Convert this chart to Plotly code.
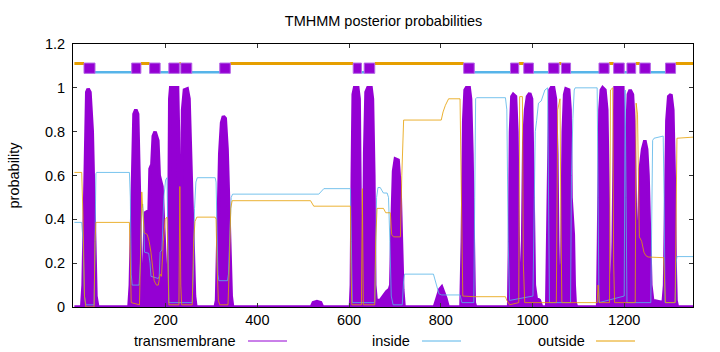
import plotly.graph_objects as go

# ---------------- data ----------------
seq_len = 1350

tm_pos = [1, 17, 20, 24, 28, 31, 35, 40, 44, 48, 52,
          120, 123, 127, 131, 135, 139, 143, 146, 150, 154, 156, 164, 166, 170, 173, 177, 183, 186, 192, 197, 201, 205,
          207, 209, 211, 226, 228, 230, 232, 234, 237, 241, 247, 251, 255, 259, 263, 266,
          308, 311, 314, 318, 322, 326, 330, 334, 337, 340, 343, 346,
          518, 522, 530, 538, 542,
          603, 605, 607, 609, 612, 619, 622, 624, 626, 629, 632, 634, 637, 641, 648, 651, 654, 656, 659,
          668, 675, 682, 688, 691, 694, 697, 701, 707, 711, 714, 717, 720,
          786, 792, 798, 802, 806, 811, 816,
          844, 847, 850, 853, 856, 862, 865, 868, 871, 873, 876,
          948, 950, 952, 955, 958, 963, 966, 969, 971, 973,
          975, 978, 981, 985, 989, 994, 998, 1000, 1002, 1004, 1008, 1015, 1020,
          1031, 1033, 1035, 1038, 1041, 1046, 1050, 1053, 1055, 1057, 1059, 1062, 1064, 1067, 1070, 1073, 1079,
          1082, 1084, 1086, 1089, 1091, 1093, 1096,
          1142, 1144, 1147, 1150, 1153, 1158, 1162, 1165, 1167, 1170,
          1173, 1176, 1178, 1180, 1197, 1199, 1201, 1203,
          1204, 1206, 1209, 1213, 1218, 1221, 1223, 1225, 1227,
          1229, 1232, 1235, 1240, 1245, 1249, 1252, 1255, 1258, 1262, 1285, 1288,
          1290, 1293, 1297, 1302, 1306, 1309, 1311, 1313, 1316, 1350]
tm_val = [0, 0, 0.1, 0.6, 0.98, 0.995, 0.98, 0.8, 0.4, 0.05, 0,
          0, 0.1, 0.5, 0.88, 0.9, 0.88, 0.5, 0.05, 0.02, 0.3, 0.43, 0.44, 0.63, 0.65, 0.78, 0.8, 0.76, 0.6, 0.55, 0.3, 0.05, 0,
          0.3, 0.95, 1.0, 1.0, 0.8, 0.1, 0.05, 0.3, 0.9, 0.99, 0.995, 0.95, 0.6, 0.3, 0.05, 0,
          0, 0.03, 0.3, 0.7, 0.84, 0.87, 0.86, 0.72, 0.5, 0.2, 0.05, 0,
          0, 0.02, 0.025, 0.02, 0,
          0, 0.1, 0.6, 0.97, 1.0, 1.0, 0.95, 0.5, 0.05, 0.02, 0.2, 0.7, 0.98, 1.0, 1.0, 0.95, 0.6, 0.1, 0.03,
          0.03, 0.05, 0.07, 0.08, 0.1, 0.4, 0.62, 0.675, 0.67, 0.55, 0.3, 0.08, 0,
          0, 0.04, 0.08, 0.09, 0.07, 0.04, 0,
          0, 0.3, 0.85, 0.99, 1.0, 1.0, 0.95, 0.7, 0.2, 0.02, 0,
          0, 0.3, 0.8, 0.96, 0.97, 0.96, 0.8, 0.3, 0.05, 0.02,
          0.02, 0.2, 0.75, 0.9, 0.96, 0.975, 0.95, 0.75, 0.4, 0.1, 0.04, 0.03, 0,
          0, 0.3, 0.8, 0.99, 1.0, 1.0, 0.95, 0.7, 0.3, 0.1, 0.12, 0.15, 0.2, 0.8, 0.97, 0.995, 0.99,
          0.9, 0.5, 0.4, 0.33, 0.1, 0.02, 0,
          0, 0.3, 0.9, 0.99, 1.0, 0.99, 0.9, 0.5, 0.1, 0.02,
          0.02, 0.3, 0.9, 1.0, 1.0, 0.8, 0.3, 0.05,
          0.2, 0.8, 0.97, 0.99, 0.97, 0.85, 0.6, 0.2, 0.1,
          0.1, 0.45, 0.63, 0.72, 0.76, 0.72, 0.6, 0.35, 0.1, 0.03, 0.02, 0.1,
          0.5, 0.85, 0.96, 0.97, 0.9, 0.6, 0.2, 0.03, 0, 0]

in_pos = [1, 17, 20, 23, 26, 44, 46, 48, 50, 121, 123, 125, 127, 142, 145, 148, 150, 152, 154, 163, 166, 168,
          184, 186, 188, 192, 196, 200, 203, 205, 207, 258, 261, 263, 266, 269, 308, 310, 312, 314, 316, 335,
          337, 340, 343, 346, 534, 545, 603, 605, 607, 656, 658, 660, 663, 668, 672, 675, 683, 686, 689, 692,
          696, 716, 719, 721, 784, 790, 796, 802, 842, 846, 872, 874, 876, 878, 941, 944, 947, 950, 1001, 1004,
          1006, 1009, 1013, 1019, 1023, 1027, 1033, 1035, 1037, 1083, 1085, 1088, 1091, 1093, 1141, 1143, 1145,
          1200, 1202, 1204, 1206, 1258, 1260, 1262, 1265, 1285, 1287, 1289, 1311, 1313, 1315, 1350]
in_val = [0.386, 0.386, 0.3, 0.05, 0.01, 0.01, 0.3, 0.61, 0.614, 0.614, 0.5, 0.15, 0.1, 0.1, 0.2, 0.45, 0.47, 0.4,
          0.25, 0.245, 0.2, 0.14, 0.13, 0.14, 0.25, 0.26, 0.5, 0.58, 0.59, 0.3, 0.02, 0.02, 0.2, 0.45, 0.57, 0.59,
          0.59, 0.57, 0.4, 0.15, 0.12, 0.12, 0.15, 0.35, 0.5, 0.515, 0.515, 0.54, 0.54, 0.3, 0.02, 0.02, 0.3, 0.5,
          0.545, 0.545, 0.53, 0.52, 0.52, 0.5, 0.3, 0.05, 0.01, 0.01, 0.12, 0.15, 0.15, 0.1, 0.06, 0.055, 0.055,
          0.02, 0.02, 0.5, 0.95, 0.955, 0.955, 0.9, 0.3, 0.03, 0.05, 0.5, 0.8, 0.85, 0.93, 0.94, 0.97, 0.99, 1.0,
          0.5, 0.02, 0.02, 0.6, 0.86, 0.99, 1.0, 1.0, 0.5, 0.02, 0.05, 0.99, 0.5, 0.02, 0.02, 0.5, 0.76, 0.77,
          0.78, 0.5, 0.02, 0.02, 0.2, 0.23, 0.23]

out_pos = [1, 17, 20, 23, 26, 44, 46, 48, 121, 123, 125, 143, 145, 148, 150, 153, 160, 164, 168, 171, 175, 180,
           184, 188, 191, 195, 199, 203, 205, 207, 229, 231, 233, 235, 258, 261, 264, 268, 308, 310, 312, 315, 318,
           336, 339, 342, 345, 516, 523, 603, 604, 606, 627, 629, 631, 656, 658, 661, 675, 680, 690, 693, 697, 712,
           715, 719, 801, 805, 810, 817, 842, 845, 848, 873, 941, 944, 950, 970, 972, 978, 980, 983, 1052, 1055,
           1060, 1062, 1064, 1141, 1143, 1146, 1168, 1170, 1175, 1177, 1179, 1224, 1226, 1229, 1231, 1233, 1238,
           1243, 1247, 1252, 1286, 1288, 1290, 1311, 1313, 1315, 1350]
out_val = [0.614, 0.614, 0.4, 0.05, 0.0, 0.0, 0.3, 0.386, 0.386, 0.2, 0.02, 0.01, 0.3, 0.525, 0.45, 0.34, 0.33,
           0.3, 0.25, 0.2, 0.12, 0.1, 0.1, 0.15, 0.14, 0.3, 0.4, 0.41, 0.2, 0.01, 0.01, 0.55, 0.1, 0.01, 0.01, 0.3,
           0.39, 0.41, 0.41, 0.4, 0.2, 0.03, 0.01, 0.01, 0.2, 0.45, 0.485, 0.485, 0.46, 0.46, 0.2, 0.01, 0.01, 0.54,
           0.01, 0.01, 0.3, 0.45, 0.45, 0.43, 0.43, 0.33, 0.32, 0.32, 0.6, 0.853, 0.853, 0.89, 0.92, 0.95, 0.95,
           0.5, 0.05, 0.047, 0.047, 0.03, 0.01, 0.02, 0.96, 0.96, 0.2, 0.02, 0.02, 0.9, 0.95, 0.4, 0.02, 0.02, 0.1,
           0.02, 0.02, 0.99, 1.0, 0.2, 0.02, 0.02, 0.93, 0.88, 0.5, 0.32, 0.3, 0.25, 0.235, 0.228, 0.225, 0.1,
           0.02, 0.02, 0.5, 0.77, 0.775]

# predicted helices (start, end) shown in the topology bar
helix_start = [22, 126, 165, 207, 233, 318, 609, 633, 850, 952, 981, 1035, 1063, 1145, 1177, 1206, 1234, 1290]
helix_end = [46, 146, 188, 230, 257, 341, 627, 656, 873, 970, 1002, 1058, 1083, 1167, 1200, 1225, 1257, 1312]

x_ticks = [200, 400, 600, 800, 1000, 1200]
y_ticks = [0, 0.2, 0.4, 0.6, 0.8, 1, 1.2]
y_tick_text = ["0", "0.2", "0.4", "0.6", "0.8", "1", "1.2"]

# ---------------- styling ----------------
PURPLE = "#9400D3"
BLUE = "#56B4E9"
ORANGE = "#E69F00"
FONT = "Liberation Sans, Arial, sans-serif"
Y_OUT, Y_IN, Y_BOX_LO, Y_BOX_HI = 1.111, 1.071, 1.066, 1.113

fig = go.Figure()

# posterior curves
fig.add_trace(go.Scatter(x=tm_pos, y=tm_val, mode="lines", fill="tozeroy",
                         line=dict(color=PURPLE, width=3.5), fillcolor=PURPLE,
                         showlegend=False, hoverinfo="skip"))
fig.add_trace(go.Scatter(x=in_pos, y=in_val, mode="lines",
                         line=dict(color="rgba(86,180,233,0.8)", width=1), showlegend=False))
fig.add_trace(go.Scatter(x=out_pos, y=out_val, mode="lines",
                         line=dict(color="rgba(230,159,0,0.8)", width=1), showlegend=False))

# topology bar: loop segments
in_x, in_y, out_x, out_y = [], [], [], []
bounds = [1] + [v for pair in zip(helix_start, helix_end) for v in pair] + [seq_len]
for k in range(0, len(bounds), 2):
    a, b = bounds[k], bounds[k + 1]
    idx = k // 2
    if idx % 2 == 0:
        out_x += [a, b, None]
        out_y += [Y_OUT, Y_OUT, None]
    else:
        in_x += [a, b, None]
        in_y += [Y_IN, Y_IN, None]
fig.add_trace(go.Scatter(x=out_x, y=out_y, mode="lines", line=dict(color=ORANGE, width=3),
                         showlegend=False))
fig.add_trace(go.Scatter(x=in_x, y=in_y, mode="lines", line=dict(color=BLUE, width=2.5),
                         showlegend=False))

# topology bar: helix boxes
bx, by = [], []
for s, e in zip(helix_start, helix_end):
    bx += [s, e, e, s, s, None]
    by += [Y_BOX_LO, Y_BOX_LO, Y_BOX_HI, Y_BOX_HI, Y_BOX_LO, None]
fig.add_trace(go.Scatter(x=bx, y=by, mode="lines", fill="toself", fillcolor=PURPLE,
                         line=dict(color="rgba(180,100,230,1)", width=1), showlegend=False))

# ---------------- layout ----------------
L, R, T, B = 73, 27, 44, 45
W, H = 720, 352
pw, ph = W - L - R, H - T - B

def px2x(px):
    return (px - L) / pw

def py2y(py):
    return (H - B - py) / ph

legend_items = [("transmembrane", PURPLE, 238, 248, 287),
                ("inside", BLUE, 411.5, 422, 461),
                ("outside", ORANGE, 586.5, 596, 635)]
shapes, annotations = [], []
for label, col, tx, x0, x1 in legend_items:
    annotations.append(dict(text=label, xref="paper", yref="paper", x=px2x(tx), y=py2y(341),
                            xanchor="right", yanchor="middle", showarrow=False,
                            font=dict(family=FONT, size=14.5, color="black")))
    shapes.append(dict(type="line", xref="paper", yref="paper", x0=px2x(x0), x1=px2x(x1),
                       y0=py2y(341), y1=py2y(341), line=dict(color=col, width=1)))

annotations.append(dict(text="probability", xref="paper", yref="paper", x=px2x(13), y=0.5,
                        textangle=-90, xanchor="center", yanchor="middle", showarrow=False,
                        font=dict(family=FONT, size=14.5, color="black")))

fig.update_layout(
    width=W, height=H,
    margin=dict(l=L, r=R, t=T, b=B, pad=0),
    paper_bgcolor="white", plot_bgcolor="white",
    title=dict(text="TMHMM posterior probabilities", x=px2x(383.5), xref="paper", xanchor="center",
               y=1 - 21 / H, yref="container", yanchor="middle",
               font=dict(family=FONT, size=14.5, color="black")),
    font=dict(family=FONT, size=14.5, color="black"),
    shapes=shapes, annotations=annotations, showlegend=False,
)
fig.update_xaxes(range=[-2, seq_len], tickvals=x_ticks, ticks="inside", ticklen=4, tickcolor="#333",
                 showline=True, linecolor="black", linewidth=1, mirror="ticks",
                 showgrid=False, zeroline=False, tickfont=dict(family=FONT, size=14.5, color="black"))
fig.update_yaxes(range=[0, 1.2], tickvals=y_ticks, ticktext=y_tick_text, ticks="inside", ticklen=4,
                 tickcolor="#333", showline=True, linecolor="black", linewidth=1, mirror="ticks",
                 showgrid=False, zeroline=False, ticklabelstandoff=4,
                 tickfont=dict(family=FONT, size=14.5, color="black"))

fig.write_html("out.html")
